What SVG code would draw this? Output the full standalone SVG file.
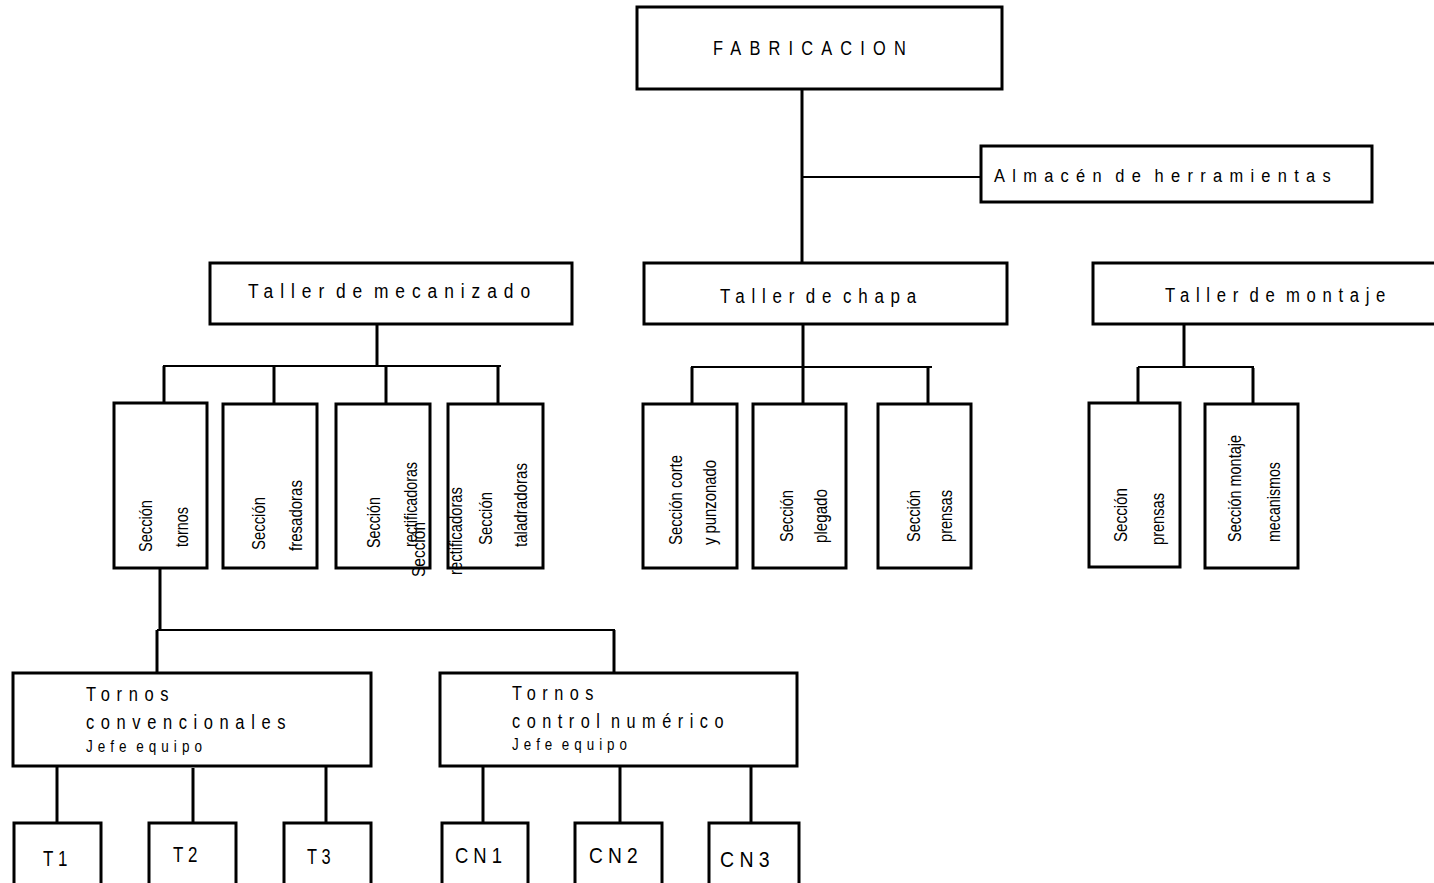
<svg xmlns="http://www.w3.org/2000/svg" width="1434" height="883" viewBox="0 0 1434 883">
<style>
.box{fill:#fff;stroke:#000;stroke-width:3}
.c{stroke:#000;stroke-width:3;fill:none}
.h{stroke:#000;stroke-width:2;fill:none}
.t{font-family:"Liberation Sans",Arial,sans-serif;font-size:20px;fill:#000;letter-spacing:8px;word-spacing:-8px}
.s{font-family:"Liberation Sans",Arial,sans-serif;font-size:16px;fill:#000;letter-spacing:6px;word-spacing:-5px}
.v{font-family:"Liberation Sans",Arial,sans-serif;font-size:19px;fill:#000}
.n{font-family:"Liberation Sans",Arial,sans-serif;font-size:22px;fill:#000;letter-spacing:6px}
</style>
<rect width="1434" height="883" fill="#fff"/>
<g id="connectors">
<line class="c" x1="802" y1="89" x2="802" y2="263"/>
<line class="h" x1="802" y1="177" x2="981" y2="177"/>
<line class="c" x1="377" y1="324" x2="377" y2="366"/>
<line class="h" x1="163" y1="366" x2="501" y2="366"/>
<line class="c" x1="164" y1="366" x2="164" y2="403"/>
<line class="c" x1="274" y1="367" x2="274" y2="404"/>
<line class="c" x1="386" y1="367" x2="386" y2="404"/>
<line class="c" x1="498" y1="367" x2="498" y2="404"/>
<line class="c" x1="803" y1="324" x2="803" y2="367"/>
<line class="h" x1="691" y1="367" x2="932" y2="367"/>
<line class="c" x1="692" y1="367" x2="692" y2="404"/>
<line class="c" x1="803" y1="367" x2="803" y2="404"/>
<line class="c" x1="928" y1="368" x2="928" y2="404"/>
<line class="c" x1="1184" y1="324" x2="1184" y2="367"/>
<line class="h" x1="1138" y1="367" x2="1254" y2="367"/>
<line class="c" x1="1138" y1="367" x2="1138" y2="404"/>
<line class="c" x1="1253" y1="368" x2="1253" y2="404"/>
<line class="c" x1="160" y1="568" x2="160" y2="630"/>
<line class="h" x1="157" y1="630" x2="615" y2="630"/>
<line class="c" x1="157" y1="630" x2="157" y2="673"/>
<line class="c" x1="614" y1="630" x2="614" y2="673"/>
<line class="c" x1="57" y1="766" x2="57" y2="823"/>
<line class="c" x1="193" y1="768" x2="193" y2="823"/>
<line class="c" x1="326" y1="766" x2="326" y2="823"/>
<line class="c" x1="483" y1="766" x2="483" y2="823"/>
<line class="c" x1="620" y1="766" x2="620" y2="823"/>
<line class="c" x1="751" y1="766" x2="751" y2="823"/>
</g>
<g id="fabricacion"><rect class="box" x="637" y="7" width="365" height="82"/><text class="t" style="letter-spacing:10px" x="713" y="55" textLength="201" lengthAdjust="spacingAndGlyphs">FABRICACION</text></g>
<g id="almacen"><rect class="box" x="981" y="146" width="391" height="56"/><text class="t" style="font-size:18px;letter-spacing:8px;word-spacing:-6px" x="994" y="182" textLength="344" lengthAdjust="spacingAndGlyphs">Almacén de herramientas</text></g>
<g id="taller-mecanizado"><rect class="box" x="210" y="263" width="362" height="61"/><text class="t" x="248" y="298" textLength="289" lengthAdjust="spacingAndGlyphs">Taller de mecanizado</text></g>
<g id="taller-chapa"><rect class="box" x="644" y="263" width="363" height="61"/><text class="t" x="720" y="303" textLength="203" lengthAdjust="spacingAndGlyphs">Taller de chapa</text></g>
<g id="taller-montaje"><rect class="box" x="1093" y="263" width="350" height="61"/><text class="t" x="1165" y="302" textLength="227" lengthAdjust="spacingAndGlyphs">Taller de montaje</text></g>
<g id="seccion-tornos"><rect class="box" x="114" y="403" width="93" height="165"/>
<text class="v" transform="translate(152,552) rotate(-90)" textLength="52" lengthAdjust="spacingAndGlyphs">Sección</text>
<text class="v" transform="translate(188,547) rotate(-90)" textLength="40" lengthAdjust="spacingAndGlyphs">tornos</text></g>
<g id="seccion-fresadoras"><rect class="box" x="223" y="404" width="94" height="164"/>
<text class="v" transform="translate(265,550) rotate(-90)" textLength="53" lengthAdjust="spacingAndGlyphs">Sección</text>
<text class="v" transform="translate(302,551) rotate(-90)" textLength="71" lengthAdjust="spacingAndGlyphs">fresadoras</text></g>
<g id="seccion-rectificadoras"><rect class="box" x="336" y="404" width="94" height="164"/>
<text class="v" transform="translate(380,548) rotate(-90)" textLength="51" lengthAdjust="spacingAndGlyphs">Sección</text>
<text class="v" transform="translate(417,547) rotate(-90)" textLength="85" lengthAdjust="spacingAndGlyphs">rectificadoras</text></g>
<g id="seccion-taladradoras"><rect class="box" x="448" y="404" width="95" height="164"/>
<text class="v" transform="translate(492,545) rotate(-90)" textLength="53" lengthAdjust="spacingAndGlyphs">Sección</text>
<text class="v" transform="translate(527,547) rotate(-90)" textLength="84" lengthAdjust="spacingAndGlyphs">taladradoras</text></g>
<g id="stray-text">
<text class="v" transform="translate(425,577) rotate(-90)" textLength="55" lengthAdjust="spacingAndGlyphs">Sección</text>
<text class="v" transform="translate(462,575) rotate(-90)" textLength="88" lengthAdjust="spacingAndGlyphs">rectificadoras</text></g>
<g id="seccion-corte"><rect class="box" x="643" y="404" width="94" height="164"/>
<text class="v" transform="translate(682,545) rotate(-90)" textLength="90" lengthAdjust="spacingAndGlyphs">Sección corte</text>
<text class="v" transform="translate(716,545) rotate(-90)" textLength="85" lengthAdjust="spacingAndGlyphs">y punzonado</text></g>
<g id="seccion-plegado"><rect class="box" x="753" y="404" width="93" height="164"/>
<text class="v" transform="translate(793,542) rotate(-90)" textLength="52" lengthAdjust="spacingAndGlyphs">Sección</text>
<text class="v" transform="translate(827,543) rotate(-90)" textLength="54" lengthAdjust="spacingAndGlyphs">plegado</text></g>
<g id="seccion-prensas-chapa"><rect class="box" x="878" y="404" width="93" height="164"/>
<text class="v" transform="translate(920,542) rotate(-90)" textLength="52" lengthAdjust="spacingAndGlyphs">Sección</text>
<text class="v" transform="translate(952,542) rotate(-90)" textLength="52" lengthAdjust="spacingAndGlyphs">prensas</text></g>
<g id="seccion-prensas-montaje"><rect class="box" x="1089" y="403" width="91" height="164"/>
<text class="v" transform="translate(1127,542) rotate(-90)" textLength="54" lengthAdjust="spacingAndGlyphs">Sección</text>
<text class="v" transform="translate(1164,545) rotate(-90)" textLength="52" lengthAdjust="spacingAndGlyphs">prensas</text></g>
<g id="seccion-montaje"><rect class="box" x="1205" y="404" width="93" height="164"/>
<text class="v" transform="translate(1241,542) rotate(-90)" textLength="107" lengthAdjust="spacingAndGlyphs">Sección montaje</text>
<text class="v" transform="translate(1280,542) rotate(-90)" textLength="80" lengthAdjust="spacingAndGlyphs">mecanismos</text></g>
<g id="tornos-convencionales"><rect class="box" x="13" y="673" width="358" height="93"/>
<text class="t" x="86" y="701" textLength="89" lengthAdjust="spacingAndGlyphs">Tornos</text>
<text class="t" x="86" y="729" textLength="206" lengthAdjust="spacingAndGlyphs">convencionales</text>
<text class="s" x="86" y="752" textLength="121" lengthAdjust="spacingAndGlyphs">Jefe equipo</text></g>
<g id="tornos-cn"><rect class="box" x="440" y="673" width="357" height="93"/>
<text class="t" x="512" y="700" textLength="88" lengthAdjust="spacingAndGlyphs">Tornos</text>
<text class="t" x="512" y="728" textLength="218" lengthAdjust="spacingAndGlyphs">control numérico</text>
<text class="s" x="512" y="750" textLength="120" lengthAdjust="spacingAndGlyphs">Jefe equipo</text></g>
<g id="t1"><rect class="box" x="14" y="823" width="87" height="75"/><text class="n" x="43" y="866" textLength="29" lengthAdjust="spacingAndGlyphs">T1</text></g>
<g id="t2"><rect class="box" x="149" y="823" width="87" height="75"/><text class="n" x="173" y="862" textLength="29" lengthAdjust="spacingAndGlyphs">T2</text></g>
<g id="t3"><rect class="box" x="284" y="823" width="87" height="75"/><text class="n" x="307" y="864" textLength="28" lengthAdjust="spacingAndGlyphs">T3</text></g>
<g id="cn1"><rect class="box" x="442" y="823" width="86" height="75"/><text class="n" x="455" y="863" textLength="52" lengthAdjust="spacingAndGlyphs">CN1</text></g>
<g id="cn2"><rect class="box" x="575" y="823" width="87" height="75"/><text class="n" x="589" y="863" textLength="54" lengthAdjust="spacingAndGlyphs">CN2</text></g>
<g id="cn3"><rect class="box" x="709" y="823" width="90" height="75"/><text class="n" x="720" y="867" textLength="55" lengthAdjust="spacingAndGlyphs">CN3</text></g>
</svg>
